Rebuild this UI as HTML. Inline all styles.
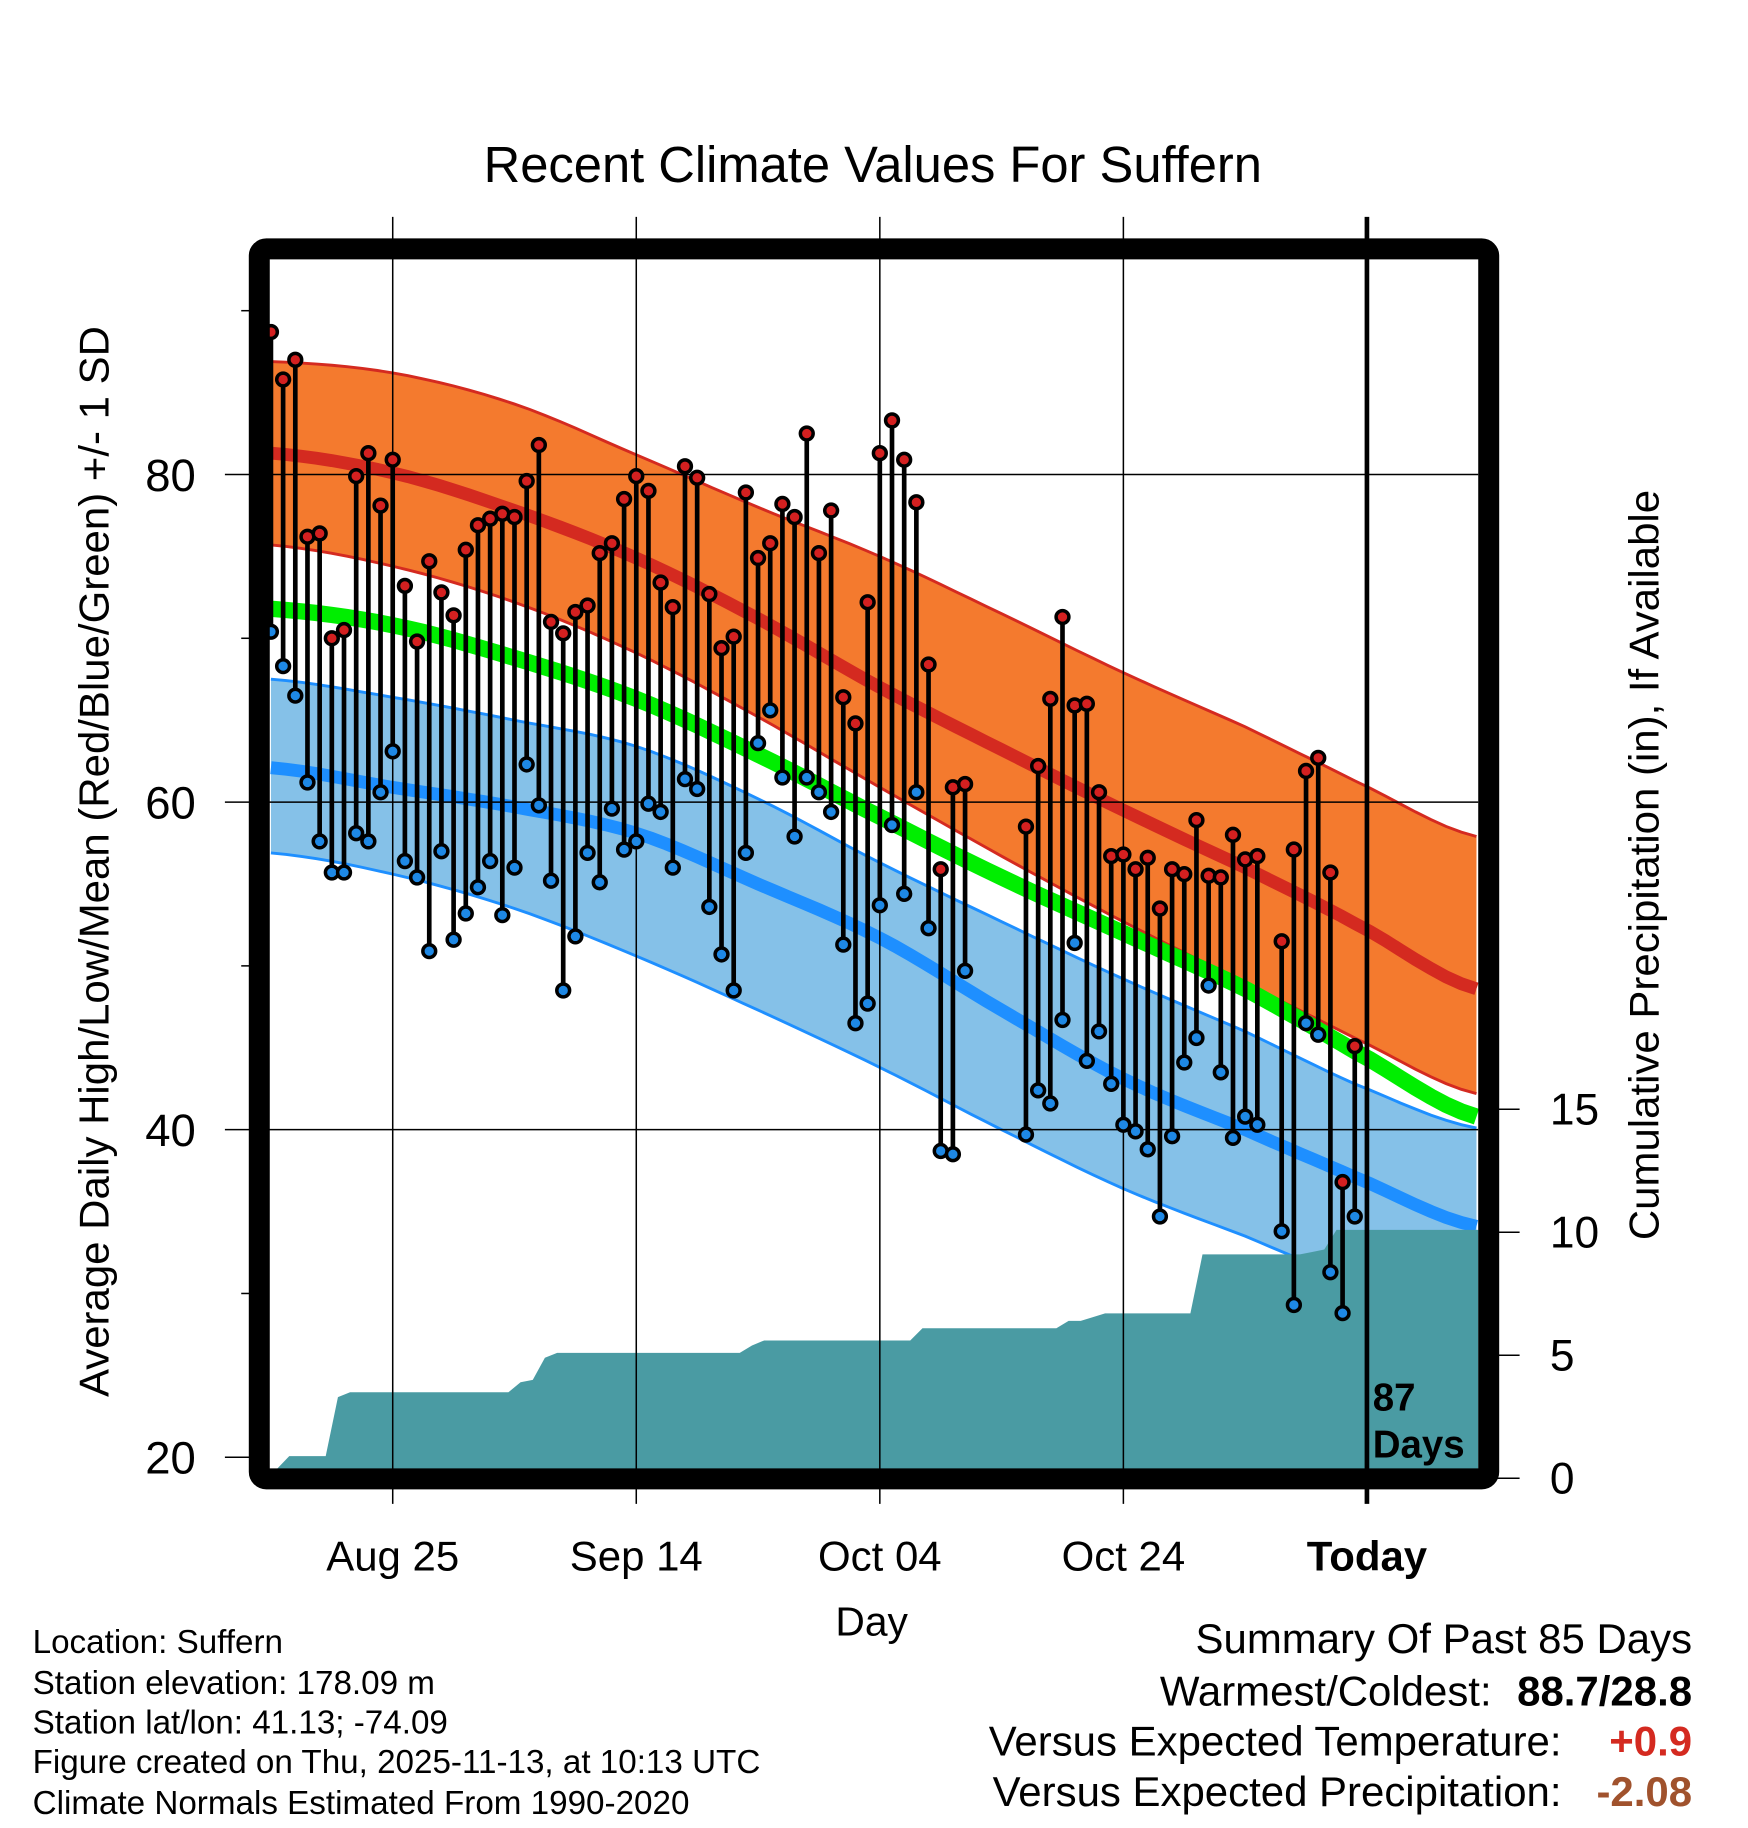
<!DOCTYPE html>
<html><head><meta charset="utf-8"><style>
html,body{margin:0;padding:0;background:#fff;}
svg{display:block;font-family:"Liberation Sans",sans-serif;}
</style></head><body>
<svg id="chart" width="1748" height="1828" viewBox="0 0 1500 1568" preserveAspectRatio="none" xmlns="http://www.w3.org/2000/svg">
<text x="749" y="156" font-size="43.5" text-anchor="middle">Recent Climate Values For Suffern</text>
<text transform="translate(93,739) rotate(-90)" font-size="36" text-anchor="middle">Average Daily High/Low/Mean (Red/Blue/Green) +/- 1 SD</text>
<text transform="translate(1423,742) rotate(-90)" font-size="36" text-anchor="middle">Cumulative Precipitation (in), If Available</text>
<text x="748" y="1403" font-size="35" text-anchor="middle">Day</text>
<g id="plot"></g>
<g font-size="28.5">
<text x="28" y="1418">Location: Suffern</text>
<text x="28" y="1453">Station elevation: 178.09 m</text>
<text x="28" y="1487">Station lat/lon: 41.13; -74.09</text>
<text x="28" y="1521">Figure created on Thu, 2025-11-13, at 10:13 UTC</text>
<text x="28" y="1556">Climate Normals Estimated From 1990-2020</text>
</g>
<g font-size="36" text-anchor="end">
<text x="1452" y="1418">Summary Of Past 85 Days</text>
<text x="1280" y="1463">Warmest/Coldest:</text>
<text x="1452" y="1463" font-weight="bold">88.7/28.8</text>
<text x="1340" y="1506">Versus Expected Temperature:</text>
<text x="1452" y="1506" font-weight="bold" fill="#d42a20">+0.9</text>
<text x="1340" y="1549">Versus Expected Precipitation:</text>
<text x="1452" y="1549" font-weight="bold" fill="#a0522d">-2.08</text>
</g>
</svg>
<script>
const normDays=[0,10,20,30,40,50,60,70,80,89,99];
const highMean=[81.3,80.1,77.8,74.9,71.2,67.0,63.2,59.5,56.0,52.6,48.6];
const highUpper=[86.9,86.2,84.3,81.2,78.0,75.0,71.5,67.9,64.6,61.3,57.9];
const highLower=[75.7,74.4,72.2,69.1,65.2,60.9,56.7,52.7,49.0,45.6,42.2];
const meanTemp=[71.8,70.8,68.8,66.3,62.9,59.1,55.4,52.0,48.6,44.8,40.8];
const lowUpper=[67.5,66.4,65.0,63.4,60.2,56.3,52.7,49.2,46.0,42.8,40.1];
const lowMean=[62.1,60.9,59.7,58.1,55.0,51.7,47.3,43.1,40.0,37.1,34.1];
const lowLower=[56.9,55.6,53.5,50.6,47.3,43.8,40.0,36.4,33.5,30.7,28.0];
const obsDays=[0,1,2,3,4,5,6,7,8,9,10,11,12,13,14,15,16,17,18,19,20,21,22,23,24,25,26,27,28,29,30,31,32,33,34,35,36,37,38,39,40,41,42,43,44,45,46,47,48,49,50,51,52,53,54,55,56,57,62,63,64,65,66,67,68,69,70,71,72,73,74,75,76,77,78,79,80,81,83,84,85,86,87,88,89];
const obsHigh=[88.7,85.8,87,76.2,76.4,70,70.5,79.9,81.3,78.1,80.9,73.2,69.8,74.7,72.8,71.4,75.4,76.9,77.3,77.6,77.4,79.6,81.8,71,70.3,71.6,72,75.2,75.8,78.5,79.9,79,73.4,71.9,80.5,79.8,72.7,69.4,70.1,78.9,74.9,75.8,78.2,77.4,82.5,75.2,77.8,66.4,64.8,72.2,81.3,83.3,80.9,78.3,68.4,55.9,60.9,61.1,58.5,62.2,66.3,71.3,65.9,66,60.6,56.7,56.8,55.9,56.6,53.5,55.9,55.6,58.9,55.5,55.4,58,56.5,56.7,51.5,57.1,61.9,62.7,55.7,36.8,45.1];
const obsLow=[70.4,68.3,66.5,61.2,57.6,55.7,55.7,58.1,57.6,60.6,63.1,56.4,55.4,50.9,57,51.6,53.2,54.8,56.4,53.1,56,62.3,59.8,55.2,48.5,51.8,56.9,55.1,59.6,57.1,57.6,59.9,59.4,56,61.4,60.8,53.6,50.7,48.5,56.9,63.6,65.6,61.5,57.9,61.5,60.6,59.4,51.3,46.5,47.7,53.7,58.6,54.4,60.6,52.3,38.7,38.5,49.7,39.7,42.4,41.6,46.7,51.4,44.2,46,42.8,40.3,39.9,38.8,34.7,39.6,44.1,45.6,48.8,43.5,39.5,40.8,40.3,33.8,29.3,46.5,45.8,31.3,28.8,34.7];
const precipDays=[1,5,6,20,21,22,23,39,40,53,65,67,68,76,85,86,87];
const precipAmt=[0.9,2.4,0.2,0.4,0.1,0.9,0.2,0.3,0.2,0.5,0.3,0.15,0.15,2.4,0.1,0.1,0.8];
const yTicks=[20,40,60,80];
const yMinor=[30,50,70,90];
const y2Ticks=[0,5,10,15];
const xTickDays=[10,30,50,70,90];
const xTickLabels=["Aug 25","Sep 14","Oct 04","Oct 24","Today"];

const NS="http://www.w3.org/2000/svg";
const plot=document.getElementById('plot');
const L=231.5,R=1268.5,T=223,B=1260;
const xS=d=>232.5+d*10.45;
const yS=v=>407+(80-v)*14.05;
const pS=p=>1268-p*21.1;
function mk(tag,attrs,parent){const e=document.createElementNS(NS,tag);for(const k in attrs)e.setAttribute(k,attrs[k]);(parent||plot).appendChild(e);return e;}
// smooth catmull-rom sampled points
function pts(days,vals){
  const out=[];const n=days.length;
  for(let i=0;i<n-1;i++){
    const p0=vals[Math.max(0,i-1)],p1=vals[i],p2=vals[i+1],p3=vals[Math.min(n-1,i+2)];
    const steps=8;
    for(let s=0;s<steps;s++){
      const t=s/steps,t2=t*t,t3=t2*t;
      const v=0.5*((2*p1)+(-p0+p2)*t+(2*p0-5*p1+4*p2-p3)*t2+(-p0+3*p1-3*p2+p3)*t3);
      const d=days[i]+(days[i+1]-days[i])*t;
      out.push(xS(d).toFixed(1)+','+yS(v).toFixed(1));
    }
  }
  out.push(xS(days[n-1]).toFixed(1)+','+yS(vals[n-1]).toFixed(1));
  return out;
}

let e;
e=mk('polygon',{points:pts(normDays,highUpper).concat(pts(normDays,highLower).reverse()).join(' '),fill:'#f47a2e'});


e=mk('polygon',{points:pts(normDays,lowUpper).concat(pts(normDays,lowLower).reverse()).join(' '),fill:'#85c1e8'});


const lines=[[highUpper,'#d42a20',2.5,'high-upper-line'],[highLower,'#d42a20',2.5,'high-lower-line'],[lowUpper,'#1e8fff',2.5,'low-upper-line'],[lowLower,'#1e8fff',2.5,'low-lower-line'],[highMean,'#d42a20',11,'high-mean-line'],[meanTemp,'#00ee00',14,'mean-line'],[lowMean,'#1e8fff',11,'low-mean-line']];
lines.forEach(([v,c,w,n])=>{
  const l=mk('polyline',{points:pts(normDays,v).join(' '),fill:'none',stroke:c,'stroke-width':w});
  
  
});

const cum=[];let c=0;
for(let d=0;d<=89;d++){const i=precipDays.indexOf(d);if(i>=0)c+=precipAmt[i];cum.push(c);}
let pp=[xS(0.5)+','+B];
cum.forEach((v,d)=>{pp.push(xS(d+0.5).toFixed(1)+','+Math.min(B,pS(v)).toFixed(1));});
pp.push(R+','+pS(cum[cum.length-1]).toFixed(1));pp.push(R+','+B);
e=mk('polygon',{points:pp.join(' '),fill:'#4a9ba3'});



yTicks.forEach(v=>{
  if(v>20){const g=mk('line',{x1:193,x2:R,y1:yS(v),y2:yS(v),stroke:'#000','stroke-width':1.3});
  
  }
  else{const g=mk('line',{x1:193,x2:216,y1:yS(v),y2:yS(v),stroke:'#000','stroke-width':1.3});
  
  }
  const t=mk('text',{x:168,y:yS(v)+14,'font-size':39,'text-anchor':'end'});t.textContent=v;
  
  
});
yMinor.forEach(v=>{const g=mk('line',{x1:207,x2:216,y1:yS(v),y2:yS(v),stroke:'#000','stroke-width':1.3});
  
  });
xTickDays.forEach((d,i)=>{
  const today=i===xTickDays.length-1;
  const g=mk('line',{x1:xS(d),x2:xS(d),y1:186,y2:1290,stroke:'#000','stroke-width':today?4:1.3});
  
  
  const t=mk('text',{x:xS(d),y:1347,'font-size':36,'text-anchor':'middle','font-weight':today?'bold':'normal'});t.textContent=xTickLabels[i];
  
  
});
y2Ticks.forEach(p=>{
  const g=mk('line',{x1:1283,x2:1304,y1:pS(p),y2:pS(p),stroke:'#000','stroke-width':1.3});
  
  
  const t=mk('text',{x:1330,y:pS(p)+13,'font-size':38});t.textContent=p;
  
  
});

obsDays.forEach((d,i)=>{
  const x=xS(d);
  const s=mk('line',{x1:x,x2:x,y1:yS(obsHigh[i]),y2:yS(obsLow[i]),stroke:'#000','stroke-width':4});
  
  
  const h=mk('circle',{cx:x,cy:yS(obsHigh[i]),r:5.5,fill:'#d42020',stroke:'#000','stroke-width':3});
  
  
  const lo=mk('circle',{cx:x,cy:yS(obsLow[i]),r:5.5,fill:'#1e88e5',stroke:'#000','stroke-width':3});
  
  
});

let t=mk('text',{x:1178,y:1210,'font-size':33,'font-weight':'bold'});t.textContent='87';


t=mk('text',{x:1178,y:1250,'font-size':33,'font-weight':'bold'});t.textContent='Days';



const f=mk('rect',{x:222.5,y:213.5,width:1055,height:1055,rx:6,fill:'none',stroke:'#000','stroke-width':18});


</script>
</body></html>
